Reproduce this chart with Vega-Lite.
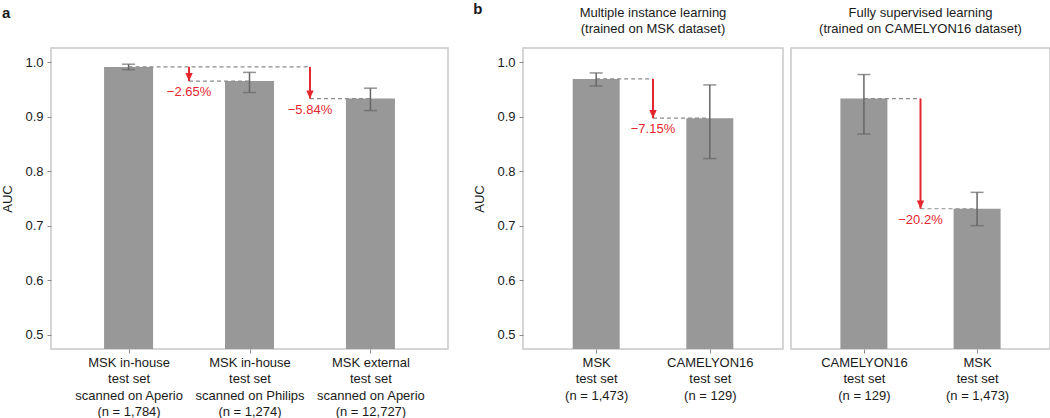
{
  "$schema": "https://vega.github.io/schema/vega-lite/v6.json",
  "padding": {"left": 1, "top": 2, "right": 1, "bottom": 0},
  "config": {
    "font": "Liberation Sans",
    "view": {"stroke": "#c8c8c8", "strokeWidth": 1.5},
    "axis": {"domain": false, "grid": false, "tickColor": "#8a8a8a", "tickSize": 4, "tickWidth": 1, "labelFontSize": 13, "labelColor": "#1a1a1a", "titleFontSize": 13, "titleFontWeight": "normal", "titleColor": "#1a1a1a", "labelPadding": 4},
    "axisX": {"labelPadding": 3.5},
    "title": {"fontSize": 13, "fontWeight": "normal", "color": "#1a1a1a", "lineHeight": 16}
  },
  "datasets": {
    "bars": [
      {"panel": "a", "idx": 1, "auc": 0.991, "lo": 0.986, "hi": 0.996},
      {"panel": "a", "idx": 2, "auc": 0.965, "lo": 0.944, "hi": 0.981},
      {"panel": "a", "idx": 3, "auc": 0.933, "lo": 0.911, "hi": 0.952},
      {"panel": "b1", "idx": 1, "auc": 0.969, "lo": 0.956, "hi": 0.980},
      {"panel": "b1", "idx": 2, "auc": 0.897, "lo": 0.823, "hi": 0.958},
      {"panel": "b2", "idx": 1, "auc": 0.933, "lo": 0.868, "hi": 0.977},
      {"panel": "b2", "idx": 2, "auc": 0.731, "lo": 0.700, "hi": 0.761}
    ],
    "links": [
      {"panel": "a", "idx": 1, "idx2": 2.5, "auc": 0.991},
      {"panel": "a", "idx": 1.5, "idx2": 2, "auc": 0.965},
      {"panel": "a", "idx": 2.5, "idx2": 3, "auc": 0.933},
      {"panel": "b1", "idx": 1, "idx2": 1.5, "auc": 0.969},
      {"panel": "b1", "idx": 1.5, "idx2": 2, "auc": 0.897},
      {"panel": "b2", "idx": 1, "idx2": 1.5, "auc": 0.933},
      {"panel": "b2", "idx": 1.5, "idx2": 2, "auc": 0.731}
    ],
    "drops": [
      {"panel": "a", "idx": 1.5, "from": 0.991, "to": 0.965, "label": "−2.65%"},
      {"panel": "a", "idx": 2.5, "from": 0.991, "to": 0.933, "label": "−5.84%"},
      {"panel": "b1", "idx": 1.5, "from": 0.969, "to": 0.897, "label": "−7.15%"},
      {"panel": "b2", "idx": 1.5, "from": 0.933, "to": 0.731, "label": "−20.2%"}
    ]
  },
  "bounds": "flush",
  "spacing": 75,
  "hconcat": [
    {
      "width": 397,
      "height": 301,
      "title": {"text": "a", "anchor": "start", "frame": "bounds", "fontSize": 15, "fontWeight": "bold", "offset": 27},
      "layer": [
        {
          "data": {"name": "bars"},
          "transform": [{"filter": "datum.panel == 'a'"}],
          "mark": {"type": "bar", "width": 49, "color": "#989898", "clip": true},
          "encoding": {
            "x": {"field": "idx", "type": "quantitative", "title": null, "scale": {"domain": [0.4, 3.6], "nice": false, "zero": false},
              "axis": {"values": [1, 2, 3], "title": null, "labelLineHeight": 16.3, "labelExpr": "datum.value == 1 ? ['MSK in-house', 'test set', 'scanned on Aperio', '(n = 1,784)'] : datum.value == 2 ? ['MSK in-house', 'test set', 'scanned on Philips', '(n = 1,274)'] : ['MSK external', 'test set', 'scanned on Aperio', '(n = 12,727)']"}},
            "y": {"field": "auc", "type": "quantitative", "title": "AUC", "scale": {"domain": [0.4738, 1.0257], "nice": false, "zero": false},
              "axis": {"values": [0.5, 0.6, 0.7, 0.8, 0.9, 1.0], "format": ".1f", "title": "AUC", "titlePadding": 10}}
          }
        },
        {
          "data": {"name": "links"},
          "transform": [{"filter": "datum.panel == 'a'"}],
          "mark": {"type": "rule", "color": "#8c8c8c", "strokeWidth": 1.2, "strokeDash": [4, 3]},
          "encoding": {
            "x": {"field": "idx", "type": "quantitative", "title": null},
            "x2": {"field": "idx2"},
            "y": {"field": "auc", "type": "quantitative", "title": "AUC"}
          }
        },
        {
          "data": {"name": "bars"},
          "transform": [{"filter": "datum.panel == 'a'"}],
          "mark": {"type": "rule", "color": "#666666", "strokeWidth": 1.5},
          "encoding": {
            "x": {"field": "idx", "type": "quantitative", "title": null},
            "y": {"field": "lo", "type": "quantitative", "title": "AUC"},
            "y2": {"field": "hi"}
          }
        },
        {
          "data": {"name": "bars"},
          "transform": [{"filter": "datum.panel == 'a'"}],
          "mark": {"type": "tick", "orient": "horizontal", "color": "#666666", "size": 13, "thickness": 1.5},
          "encoding": {
            "x": {"field": "idx", "type": "quantitative", "title": null},
            "y": {"field": "lo", "type": "quantitative", "title": "AUC"}
          }
        },
        {
          "data": {"name": "bars"},
          "transform": [{"filter": "datum.panel == 'a'"}],
          "mark": {"type": "tick", "orient": "horizontal", "color": "#666666", "size": 13, "thickness": 1.5},
          "encoding": {
            "x": {"field": "idx", "type": "quantitative", "title": null},
            "y": {"field": "hi", "type": "quantitative", "title": "AUC"}
          }
        },
        {
          "data": {"name": "drops"},
          "transform": [{"filter": "datum.panel == 'a'"}],
          "mark": {"type": "rule", "color": "#e4262f", "strokeWidth": 2},
          "encoding": {
            "x": {"field": "idx", "type": "quantitative", "title": null},
            "y": {"field": "from", "type": "quantitative", "title": "AUC"},
            "y2": {"field": "to"}
          }
        },
        {
          "data": {"name": "drops"},
          "transform": [{"filter": "datum.panel == 'a'"}],
          "mark": {"type": "point", "shape": "M -0.5 -1.1 L 0.5 -1.1 L 0 0 Z", "size": 220, "filled": true, "color": "#e4262f", "opacity": 1},
          "encoding": {
            "x": {"field": "idx", "type": "quantitative", "title": null},
            "y": {"field": "to", "type": "quantitative", "title": "AUC"}
          }
        },
        {
          "data": {"name": "drops"},
          "transform": [{"filter": "datum.panel == 'a'"}],
          "mark": {"type": "text", "color": "#e4262f", "fontSize": 13, "baseline": "top", "dy": 5},
          "encoding": {
            "x": {"field": "idx", "type": "quantitative", "title": null},
            "y": {"field": "to", "type": "quantitative", "title": "AUC"},
            "text": {"field": "label"}
          }
        }
      ]
    },
    {
      "title": {"text": "b", "anchor": "start", "frame": "bounds", "fontSize": 15, "fontWeight": "bold", "offset": -11},
      "bounds": "flush",
      "spacing": 8,
      "hconcat": [
        {
          "width": 260,
          "height": 301,
          "title": {"text": ["Multiple instance learning", "(trained on MSK dataset)"], "offset": 12},
          "layer": [
            {
              "data": {"name": "bars"},
              "transform": [{"filter": "datum.panel == 'b1'"}],
              "mark": {"type": "bar", "width": 47, "color": "#989898", "clip": true},
              "encoding": {
                "x": {"field": "idx", "type": "quantitative", "title": null, "scale": {"domain": [0.4, 2.6], "nice": false, "zero": false},
                  "axis": {"values": [1, 2], "title": null, "labelLineHeight": 16.3, "labelExpr": "datum.value == 1 ? ['MSK', 'test set', '(n = 1,473)'] : ['CAMELYON16', 'test set', '(n = 129)']"}},
                "y": {"field": "auc", "type": "quantitative", "title": "AUC", "scale": {"domain": [0.4738, 1.0257], "nice": false, "zero": false},
                  "axis": {"values": [0.5, 0.6, 0.7, 0.8, 0.9, 1.0], "format": ".1f", "title": "AUC", "titlePadding": 10}}
              }
            },
            {
              "data": {"name": "links"},
              "transform": [{"filter": "datum.panel == 'b1'"}],
              "mark": {"type": "rule", "color": "#8c8c8c", "strokeWidth": 1.2, "strokeDash": [4, 3]},
              "encoding": {
                "x": {"field": "idx", "type": "quantitative", "title": null},
                "x2": {"field": "idx2"},
                "y": {"field": "auc", "type": "quantitative", "title": "AUC"}
              }
            },
            {
              "data": {"name": "bars"},
              "transform": [{"filter": "datum.panel == 'b1'"}],
              "mark": {"type": "rule", "color": "#666666", "strokeWidth": 1.5},
              "encoding": {
                "x": {"field": "idx", "type": "quantitative", "title": null},
                "y": {"field": "lo", "type": "quantitative", "title": "AUC"},
                "y2": {"field": "hi"}
              }
            },
            {
              "data": {"name": "bars"},
              "transform": [{"filter": "datum.panel == 'b1'"}],
              "mark": {"type": "tick", "orient": "horizontal", "color": "#666666", "size": 13, "thickness": 1.5},
              "encoding": {
                "x": {"field": "idx", "type": "quantitative", "title": null},
                "y": {"field": "lo", "type": "quantitative", "title": "AUC"}
              }
            },
            {
              "data": {"name": "bars"},
              "transform": [{"filter": "datum.panel == 'b1'"}],
              "mark": {"type": "tick", "orient": "horizontal", "color": "#666666", "size": 13, "thickness": 1.5},
              "encoding": {
                "x": {"field": "idx", "type": "quantitative", "title": null},
                "y": {"field": "hi", "type": "quantitative", "title": "AUC"}
              }
            },
            {
              "data": {"name": "drops"},
              "transform": [{"filter": "datum.panel == 'b1'"}],
              "mark": {"type": "rule", "color": "#e4262f", "strokeWidth": 2},
              "encoding": {
                "x": {"field": "idx", "type": "quantitative", "title": null},
                "y": {"field": "from", "type": "quantitative", "title": "AUC"},
                "y2": {"field": "to"}
              }
            },
            {
              "data": {"name": "drops"},
              "transform": [{"filter": "datum.panel == 'b1'"}],
              "mark": {"type": "point", "shape": "M -0.5 -1.1 L 0.5 -1.1 L 0 0 Z", "size": 220, "filled": true, "color": "#e4262f", "opacity": 1},
              "encoding": {
                "x": {"field": "idx", "type": "quantitative", "title": null},
                "y": {"field": "to", "type": "quantitative", "title": "AUC"}
              }
            },
            {
              "data": {"name": "drops"},
              "transform": [{"filter": "datum.panel == 'b1'"}],
              "mark": {"type": "text", "color": "#e4262f", "fontSize": 13, "baseline": "top", "dy": 5},
              "encoding": {
                "x": {"field": "idx", "type": "quantitative", "title": null},
                "y": {"field": "to", "type": "quantitative", "title": "AUC"},
                "text": {"field": "label"}
              }
            }
          ]
        },
        {
          "width": 259,
          "height": 301,
          "title": {"text": ["Fully supervised learning", "(trained on CAMELYON16 dataset)"], "offset": 12},
          "layer": [
            {
              "data": {"name": "bars"},
              "transform": [{"filter": "datum.panel == 'b2'"}],
              "mark": {"type": "bar", "width": 47, "color": "#989898", "clip": true},
              "encoding": {
                "x": {"field": "idx", "type": "quantitative", "title": null, "scale": {"domain": [0.4, 2.6], "nice": false, "zero": false},
                  "axis": {"values": [1, 2], "title": null, "labelLineHeight": 16.3, "labelExpr": "datum.value == 1 ? ['CAMELYON16', 'test set', '(n = 129)'] : ['MSK', 'test set', '(n = 1,473)']"}},
                "y": {"field": "auc", "type": "quantitative", "title": "AUC", "scale": {"domain": [0.4738, 1.0257], "nice": false, "zero": false}, "axis": null}
              }
            },
            {
              "data": {"name": "links"},
              "transform": [{"filter": "datum.panel == 'b2'"}],
              "mark": {"type": "rule", "color": "#8c8c8c", "strokeWidth": 1.2, "strokeDash": [4, 3]},
              "encoding": {
                "x": {"field": "idx", "type": "quantitative", "title": null},
                "x2": {"field": "idx2"},
                "y": {"field": "auc", "type": "quantitative", "axis": null}
              }
            },
            {
              "data": {"name": "bars"},
              "transform": [{"filter": "datum.panel == 'b2'"}],
              "mark": {"type": "rule", "color": "#666666", "strokeWidth": 1.5},
              "encoding": {
                "x": {"field": "idx", "type": "quantitative", "title": null},
                "y": {"field": "lo", "type": "quantitative", "axis": null},
                "y2": {"field": "hi"}
              }
            },
            {
              "data": {"name": "bars"},
              "transform": [{"filter": "datum.panel == 'b2'"}],
              "mark": {"type": "tick", "orient": "horizontal", "color": "#666666", "size": 13, "thickness": 1.5},
              "encoding": {
                "x": {"field": "idx", "type": "quantitative", "title": null},
                "y": {"field": "lo", "type": "quantitative", "axis": null}
              }
            },
            {
              "data": {"name": "bars"},
              "transform": [{"filter": "datum.panel == 'b2'"}],
              "mark": {"type": "tick", "orient": "horizontal", "color": "#666666", "size": 13, "thickness": 1.5},
              "encoding": {
                "x": {"field": "idx", "type": "quantitative", "title": null},
                "y": {"field": "hi", "type": "quantitative", "axis": null}
              }
            },
            {
              "data": {"name": "drops"},
              "transform": [{"filter": "datum.panel == 'b2'"}],
              "mark": {"type": "rule", "color": "#e4262f", "strokeWidth": 2},
              "encoding": {
                "x": {"field": "idx", "type": "quantitative", "title": null},
                "y": {"field": "from", "type": "quantitative", "axis": null},
                "y2": {"field": "to"}
              }
            },
            {
              "data": {"name": "drops"},
              "transform": [{"filter": "datum.panel == 'b2'"}],
              "mark": {"type": "point", "shape": "M -0.5 -1.1 L 0.5 -1.1 L 0 0 Z", "size": 220, "filled": true, "color": "#e4262f", "opacity": 1},
              "encoding": {
                "x": {"field": "idx", "type": "quantitative", "title": null},
                "y": {"field": "to", "type": "quantitative", "axis": null}
              }
            },
            {
              "data": {"name": "drops"},
              "transform": [{"filter": "datum.panel == 'b2'"}],
              "mark": {"type": "text", "color": "#e4262f", "fontSize": 13, "baseline": "top", "dy": 5},
              "encoding": {
                "x": {"field": "idx", "type": "quantitative", "title": null},
                "y": {"field": "to", "type": "quantitative", "axis": null},
                "text": {"field": "label"}
              }
            }
          ]
        }
      ]
    }
  ]
}
